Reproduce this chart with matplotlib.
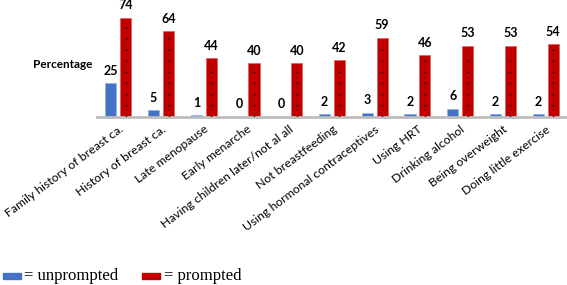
import matplotlib.pyplot as plt
import numpy as np
from matplotlib.patches import Rectangle

categories = ["Family history of breast ca.", "History of breast ca.", "Late menopause",
              "Early menarche", "Having children later/not al all", "Not breastfeeding",
              "Using hormonal contraceptives", "Using HRT", "Drinking alcohol",
              "Being overweight", "Doing little exercise"]
unprompted = [25, 5, 1, 0, 0, 2, 3, 2, 6, 2, 2]
prompted = [74, 64, 44, 40, 40, 42, 59, 46, 53, 53, 54]

blue = "#4472C4"
red = "#C00000"
sans = ["Lato", "DejaVu Sans"]

fig = plt.figure(figsize=(5.67, 2.85), dpi=100)
ax = fig.add_axes([0.171, 0.5905, 0.829, 0.376])

x = np.arange(len(categories))
w = 0.26
off = 0.175
b1 = ax.bar(x - off, unprompted, w, color=blue, edgecolor="#8fb0e8", linewidth=0.5, zorder=2)
b2 = ax.bar(x + off, prompted, w, color=red, edgecolor="#e06060", linewidth=0.5, zorder=2)
# sparse dotted pattern on the red bars
ax.vlines(x + off, 0, np.array(prompted) - 3, colors="black", linewidth=1.0,
          linestyles=(0, (1, 7)), zorder=3)

for rect, v in zip(b1, unprompted):
    ax.annotate(str(v), (rect.get_x() + rect.get_width() / 2, v), xytext=(0, 4.5),
                textcoords="offset points", ha="center", va="bottom",
                fontsize=9, fontweight="bold", family=sans)
for rect, v in zip(b2, prompted):
    ax.annotate(str(v), (rect.get_x() + rect.get_width() / 2, v), xytext=(0, 4.5),
                textcoords="offset points", ha="center", va="bottom",
                fontsize=9, fontweight="bold", family=sans)

ax.set_xlim(-0.5, len(categories) - 0.5)
ax.set_ylim(0, 80)
ax.set_yticks([])
ax.set_xticks(x)
ax.set_xticklabels(categories, rotation=37, ha="right", rotation_mode="anchor",
                   fontsize=8.8, family=sans)
ax.tick_params(axis="x", length=0, pad=5)
for s in ["top", "right", "left"]:
    ax.spines[s].set_visible(False)
ax.spines["bottom"].set_color("#bdbdbd")
ax.spines["bottom"].set_linewidth(2)

fig.text(92 / 567, 1 - 64 / 285, "Percentage", ha="right", va="center",
         fontsize=8.5, fontweight="bold", family=sans)

# legend
fig.add_artist(Rectangle((3 / 567, 1 - 279 / 285), 18 / 567, 6 / 285,
                         transform=fig.transFigure, color=blue))
fig.text(24 / 567, 1 - 276 / 285, "= unprompted", ha="left", va="center",
         fontsize=12, family=["Liberation Serif", "DejaVu Serif"])
fig.add_artist(Rectangle((142 / 567, 1 - 279 / 285), 18 / 567, 6 / 285,
                         transform=fig.transFigure, color=red))
fig.text(164 / 567, 1 - 276 / 285, "= prompted", ha="left", va="center",
         fontsize=12, family=["Liberation Serif", "DejaVu Serif"])

fig.savefig("out.png", dpi=100)
